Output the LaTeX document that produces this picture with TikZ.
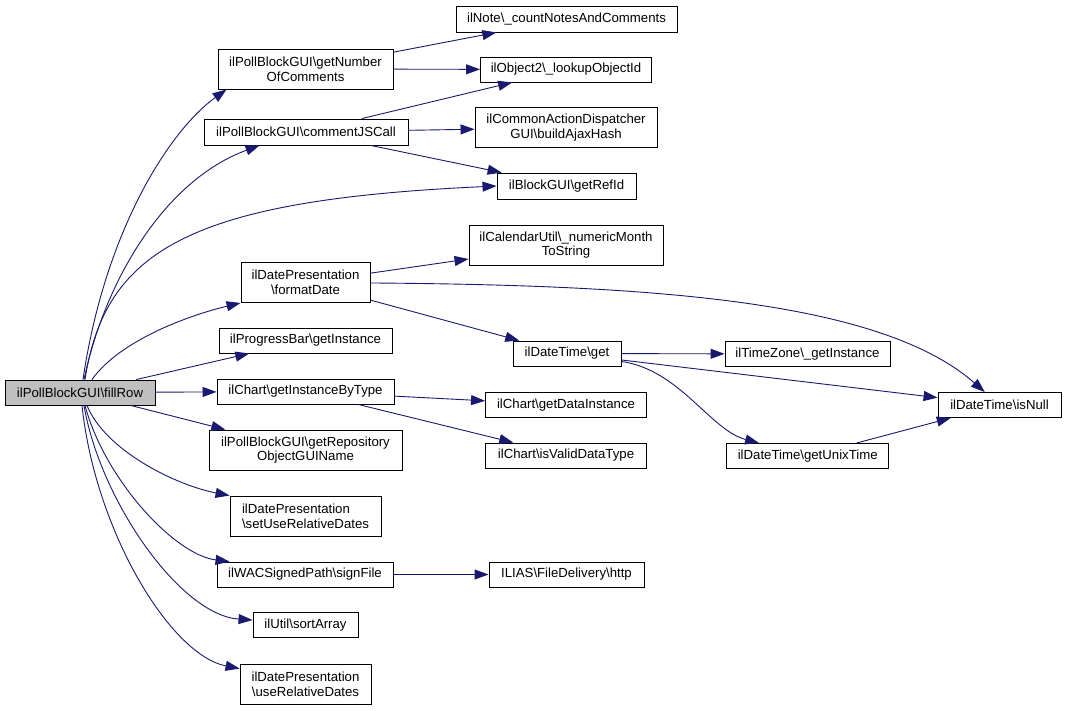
\documentclass[tikz,border=0pt]{standalone}
\usepackage{fontspec}
\setmainfont{Liberation Sans}
\usetikzlibrary{arrows.meta}
\definecolor{edgeblue}{HTML}{191970}
\definecolor{rootgray}{HTML}{BFBFBF}
\begin{document}
\begin{tikzpicture}[x=1pt,y=-1pt,
  box/.style={draw=black, line width=0.9pt, fill=white, inner sep=0pt, align=center,
    font=\fontsize{13.2}{14.8}\selectfont, minimum height=25pt},
  two/.style={minimum height=40pt},
  edge/.style={draw=edgeblue, line width=0.9pt, -{Triangle[length=14pt,width=10pt]}}]
\useasboundingbox[fill=white] (0,0) rectangle (1067,710);
% column 0
\node[box, fill=rootgray, minimum width=150pt] (fr) at (80,392.5) {ilPollBlockGUI\textbackslash fillRow};
% column 1
\node[box, two, minimum width=175pt] (gnc) at (305.5,69) {ilPollBlockGUI\textbackslash getNumber\\OfComments};
\node[box, minimum width=204pt, minimum height=26pt] (cjs) at (306,132) {ilPollBlockGUI\textbackslash commentJSCall};
\node[box, two, minimum width=129pt] (fd) at (305.5,282.5) {ilDatePresentation\\\textbackslash formatDate};
\node[box, minimum width=173pt] (pb) at (305.5,340.5) {ilProgressBar\textbackslash getInstance};
\node[box, minimum width=177pt] (gibt) at (305.5,391.5) {ilChart\textbackslash getInstanceByType};
\node[box, two, minimum width=193pt] (grog) at (305.5,450) {ilPollBlockGUI\textbackslash getRepository\\ObjectGUIName};
\node[box, two, minimum width=151pt, align=left] (sud) at (305.5,516) {ilDatePresentation\\\textbackslash setUseRelativeDates};
\node[box, minimum width=176pt] (sf) at (305,574.5) {ilWACSignedPath\textbackslash signFile};
\node[box, minimum width=105pt] (sa) at (305.5,625) {ilUtil\textbackslash sortArray};
\node[box, two, minimum width=131pt] (urd) at (305.5,684) {ilDatePresentation\\\textbackslash useRelativeDates};
% column 2
\node[box, minimum width=221pt, minimum height=26pt] (cnc) at (566.5,19) {ilNote\textbackslash\_countNotesAndComments};
\node[box, minimum width=171pt] (loi) at (566,69.5) {ilObject2\textbackslash\_lookupObjectId};
\node[box, two, minimum width=182pt] (bah) at (566,127.7) {ilCommonActionDispatcher\\GUI\textbackslash buildAjaxHash};
\node[box, minimum width=139pt, minimum height=26pt] (gri) at (566.5,186) {ilBlockGUI\textbackslash getRefId};
\node[box, two, minimum width=194pt] (nms) at (566,245) {ilCalendarUtil\textbackslash\_numericMonth\\ToString};
\node[box, minimum width=108pt] (dtg) at (567,353.5) {ilDateTime\textbackslash get};
\node[box, minimum width=161pt] (gdi) at (566,405) {ilChart\textbackslash getDataInstance};
\node[box, minimum width=161pt] (ivd) at (566,455.5) {ilChart\textbackslash isValidDataType};
\node[box, minimum width=155pt] (http) at (566.5,574.5) {ILIAS\textbackslash FileDelivery\textbackslash http};
% column 3
\node[box, minimum width=165pt] (tz) at (807.5,354) {ilTimeZone\textbackslash\_getInstance};
\node[box, minimum width=162pt] (gut) at (807.7,456) {ilDateTime\textbackslash getUnixTime};
% column 4
\node[box, minimum width=123pt] (isn) at (999.5,405) {ilDateTime\textbackslash isNull};
% edges from fillRow
\draw[edge] ([xshift=3pt]fr.north) .. controls (105,230) and (170,130) .. ([xshift=9pt]gnc.south west);
\draw[edge] ([xshift=4pt]fr.north) .. controls (105,280) and (165,180) .. ([xshift=56pt]cjs.south west);
\draw[edge] ([xshift=5pt]fr.north) .. controls (105,250) and (190,200) .. (gri.west);
\draw[edge] ([xshift=12pt]fr.north) .. controls (120,340) and (190,315) .. (fd.south west);
\draw[edge] (fr) -- (pb);
\draw[edge] (fr) -- (gibt);
\draw[edge] (fr) -- (grog);
\draw[edge] ([xshift=7pt]fr.south) .. controls (105,450) and (175,485) .. (sud.north west);
\draw[edge] ([xshift=5pt]fr.south) .. controls (105,480) and (175,555) .. ([xshift=13pt]sf.north west);
\draw[edge] ([xshift=4pt]fr.south) .. controls (100,500) and (180,615) .. ([yshift=-8pt]sa.north west);
\draw[edge] ([xshift=2pt]fr.south) .. controls (95,530) and (170,655) .. ([yshift=-5pt]urd.north west);
% other edges
\draw[edge] (gnc) -- (cnc);
\draw[edge] (gnc) -- (loi);
\draw[edge] (cjs) -- (loi);
\draw[edge] (cjs) -- (bah);
\draw[edge] (cjs) -- (gri);
\draw[edge] (fd) -- (nms);
\draw[edge] (fd) .. controls (650,285) and (880,300) .. (isn);
\draw[edge] (fd) -- (dtg);
\draw[edge] (dtg) -- (tz);
\draw[edge] (dtg) -- (isn);
\draw[edge] (dtg) .. controls (680,370) and (710,430) .. (gut);
\draw[edge] (gibt) -- (gdi);
\draw[edge] (gibt) -- (ivd);
\draw[edge] (sf) -- (http);
\draw[edge] (gut) -- (isn);
\end{tikzpicture}
\end{document}
